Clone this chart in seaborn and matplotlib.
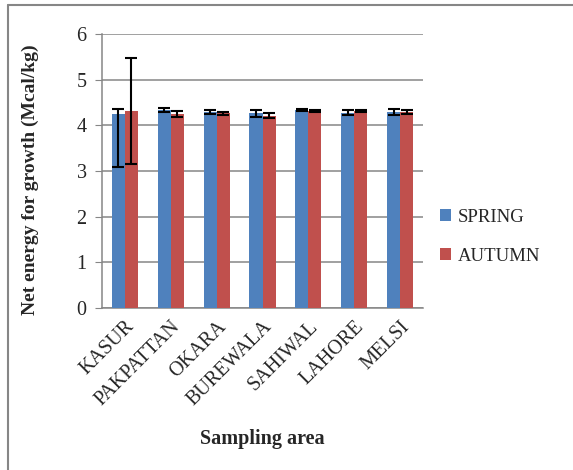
import matplotlib
matplotlib.use("Agg")
import matplotlib.pyplot as plt
import seaborn as sns
import pandas as pd
import numpy as np
from matplotlib.lines import Line2D

areas = ["KASUR", "PAKPATTAN", "OKARA", "BUREWALA", "SAHIWAL", "LAHORE", "MELSI"]
spring = [4.25, 4.34, 4.29, 4.26, 4.34, 4.28, 4.29]
autumn = [4.32, 4.25, 4.26, 4.21, 4.32, 4.32, 4.29]
spring_err_low = [1.16, 0.05, 0.04, 0.08, 0.02, 0.05, 0.06]
spring_err_high = [0.11, 0.05, 0.04, 0.08, 0.02, 0.05, 0.06]
autumn_err_low = [1.16, 0.07, 0.03, 0.05, 0.02, 0.02, 0.05]
autumn_err_high = [1.16, 0.07, 0.03, 0.05, 0.02, 0.02, 0.05]
seasons = ["SPRING", "AUTUMN"]
colors = ["#4F81BD", "#C0504D"]

df = pd.DataFrame({
    "area": areas * 2,
    "season": ["SPRING"] * len(areas) + ["AUTUMN"] * len(areas),
    "value": spring + autumn,
})

sns.set_style("white")
plt.rcParams["font.family"] = ["Liberation Serif", "DejaVu Serif"]

fig = plt.figure(figsize=(5.73, 4.70), dpi=100)
ax = fig.add_axes([102 / 573, 1 - 308 / 470, 321 / 573, 274 / 470])

sns.barplot(data=df, x="area", y="value", hue="season", hue_order=seasons,
            palette=colors, width=0.57, gap=0, errorbar=None, ax=ax,
            saturation=1, edgecolor="none", legend=True, zorder=3)

n = len(areas)
sp_bars = ax.containers[0]
au_bars = ax.containers[1]
for cont, vals, lo, hi in [(sp_bars, spring, spring_err_low, spring_err_high),
                           (au_bars, autumn, autumn_err_low, autumn_err_high)]:
    xs = [p.get_x() + p.get_width() / 2 for p in cont]
    ax.errorbar(xs, vals, yerr=[lo, hi], fmt="none", ecolor="black",
                elinewidth=1.5, capsize=4.5, capthick=1.5, zorder=5)

ax.set_ylim(0, 6)
ax.set_yticks(range(0, 7))
ax.set_xlim(-0.5, n - 0.5)
ax.yaxis.grid(True, color="#868686", linewidth=1.1, zorder=0)
ax.set_axisbelow(True)
for s in ["top", "right"]:
    ax.spines[s].set_visible(False)
for s in ["left", "bottom"]:
    ax.spines[s].set_color("#868686")
    ax.spines[s].set_linewidth(1.1)
ax.tick_params(axis="y", which="both", left=True, length=5, color="#868686",
               labelsize=14.5, pad=6)
ax.tick_params(axis="x", bottom=False, labelsize=14.5, pad=3)
plt.setp(ax.get_xticklabels(), rotation=45, ha="right", rotation_mode="anchor")

ax.set_xlabel("Sampling area", fontsize=14.5, fontweight="bold", labelpad=14)
ax.set_ylabel("Net energy for growth (Mcal/kg)", fontsize=14, fontweight="bold")
ax.yaxis.set_label_coords(-0.195, 0.47)

leg = ax.legend(loc="center left", bbox_to_anchor=(1.0, 0.26), frameon=False,
                fontsize=13.5, handlelength=0.6, handleheight=0.6, labelspacing=1.2,
                handletextpad=0.35)

# outer chart frame (top and left visible)
fig.add_artist(Line2D([7.5 / 573, 7.5 / 573], [0, 1 - 5 / 470], color="#868686",
                      linewidth=1.5, transform=fig.transFigure))
fig.add_artist(Line2D([7.5 / 573, 1], [1 - 5 / 470, 1 - 5 / 470], color="#868686",
                      linewidth=1.5, transform=fig.transFigure))

fig.savefig("out.png", dpi=100)
